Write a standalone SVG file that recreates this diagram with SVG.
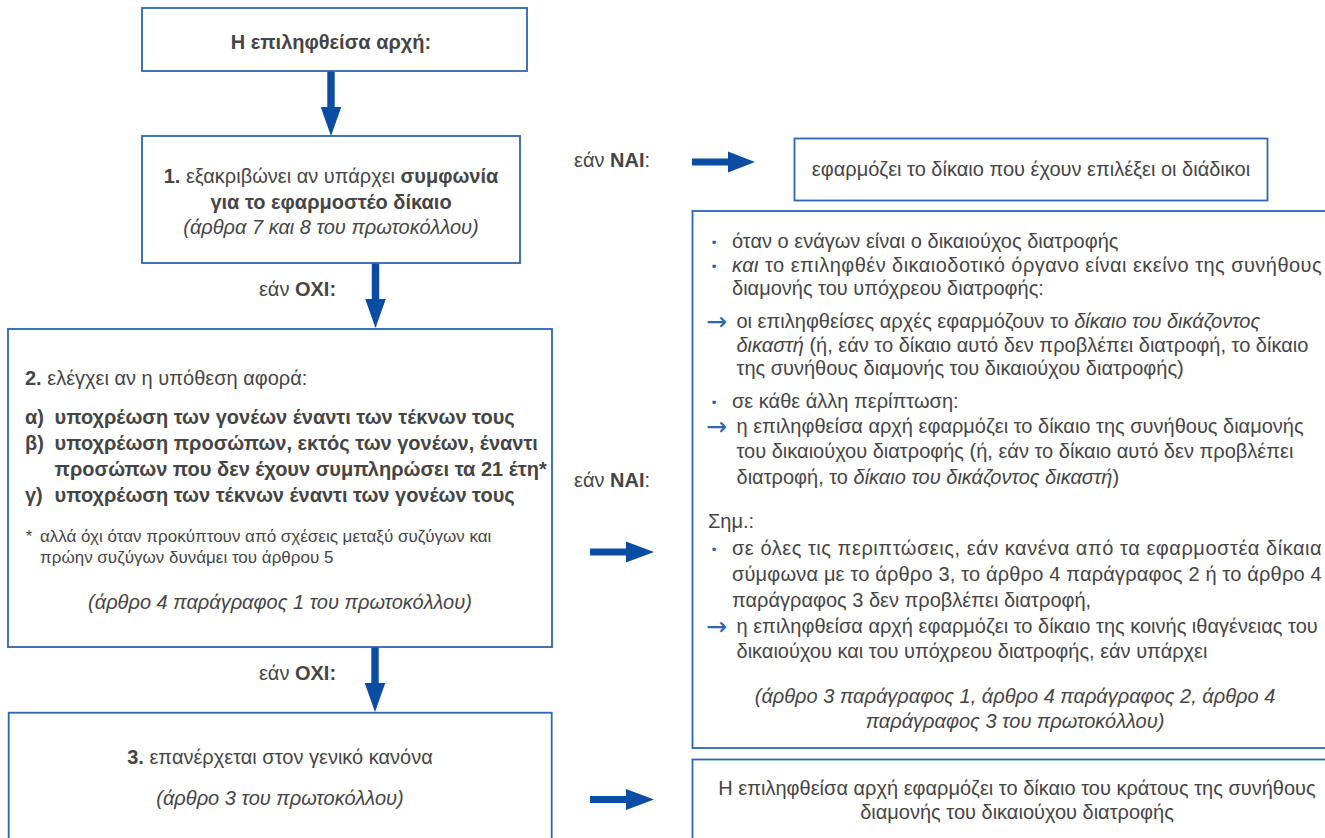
<svg xmlns="http://www.w3.org/2000/svg" width="1325" height="838" viewBox="0 0 1325 838">
  <style>
    .box { fill: #ffffff; stroke: #2c66b4; stroke-width: 1.8; }
    .t { font-family: "Liberation Sans", Arial, "DejaVu Sans", sans-serif; font-size: 20px; fill: #454545; }
    .s { font-size: 17px; }
    .b { font-weight: bold; }
    .i { font-style: italic; }
    .c { text-anchor: middle; }
    .mark { font-family: "DejaVu Sans", sans-serif; fill: #2c66b4; }
    .dot { font-size: 13px; }
    .arw { font-size: 25px; }
    .conn { fill: #0a4da2; }
  </style>

  <rect width="1325" height="838" fill="#ffffff"/>

  <!-- flow arrows -->
  <g id="connectors" class="conn">
    <polygon points="327.3,71 334.7,71 334.7,107 341.3,107 331,136 320.7,107 327.3,107"/>
    <polygon points="371.8,263 379.2,263 379.2,299 385.8,299 375.5,328 365.2,299 371.8,299"/>
    <polygon points="371.3,647 378.7,647 378.7,683 385.3,683 375,712 364.7,683 371.3,683"/>
    <polygon points="692,158.5 728,158.5 728,151.5 755,162 728,172.5 728,165.5 692,165.5"/>
    <polygon points="590,548.5 626,548.5 626,541.5 654,552 626,562.5 626,555.5 590,555.5"/>
    <polygon points="590,796 626,796 626,789 654,799.5 626,810 626,803 590,803"/>
  </g>

  <!-- branch labels -->
  <g id="labels" class="t">
    <text x="297.5" y="296" class="c">εάν <tspan class="b">ΟΧΙ:</tspan></text>
    <text x="297.5" y="680" class="c">εάν <tspan class="b">ΟΧΙ:</tspan></text>
    <text x="574" y="167">εάν <tspan class="b">ΝΑΙ</tspan>:</text>
    <text x="574" y="487">εάν <tspan class="b">ΝΑΙ</tspan>:</text>
  </g>

  <g id="start">
    <rect class="box" x="142" y="8" width="385" height="63"/>
    <text class="t b c" x="331" y="49">Η επιληφθείσα αρχή:</text>
  </g>

  <g id="step1">
    <rect class="box" x="142" y="136" width="378" height="127"/>
    <text class="t c" x="331" y="183"><tspan class="b">1.</tspan> εξακριβώνει αν υπάρχει <tspan class="b">συμφωνία</tspan></text>
    <text class="t b c" x="331" y="209">για το εφαρμοστέο δίκαιο</text>
    <text class="t i c" x="331" y="234">(άρθρα 7 και 8 του πρωτοκόλλου)</text>
  </g>

  <g id="step2">
    <rect class="box" x="8" y="329" width="544" height="318"/>
    <text class="t" x="25" y="385"><tspan class="b">2.</tspan> ελέγχει αν η υπόθεση αφορά:</text>
    <g class="t b">
      <text x="25" y="424">α)</text>
      <text x="54.6" y="424">υποχρέωση των γονέων έναντι των τέκνων τους</text>
      <text x="25" y="450">β)</text>
      <text x="54.6" y="450">υποχρέωση προσώπων, εκτός των γονέων, έναντι</text>
      <text x="54.6" y="476">προσώπων που δεν έχουν συμπληρώσει τα 21 έτη*</text>
      <text x="25" y="502">γ)</text>
      <text x="54.6" y="502">υποχρέωση των τέκνων έναντι των γονέων τους</text>
    </g>
    <g class="t s">
      <text x="25.7" y="542">*</text>
      <text x="40" y="542">αλλά όχι όταν προκύπτουν από σχέσεις μεταξύ συζύγων και</text>
      <text x="40" y="563">πρώην συζύγων δυνάμει του άρθρου 5</text>
    </g>
    <text class="t i c" x="280" y="609">(άρθρο 4 παράγραφος 1 του πρωτοκόλλου)</text>
  </g>

  <g id="step3">
    <rect class="box" x="8.7" y="712.7" width="543" height="140"/>
    <text class="t c" x="280" y="764"><tspan class="b">3.</tspan> επανέρχεται στον γενικό κανόνα</text>
    <text class="t i c" x="280" y="805">(άρθρο 3 του πρωτοκόλλου)</text>
  </g>

  <g id="result-choice">
    <rect class="box" x="794.5" y="138.5" width="473" height="62"/>
    <text class="t c" x="1031" y="176">εφαρμόζει το δίκαιο που έχουν επιλέξει οι διάδικοι</text>
  </g>

  <g id="result-maintenance">
    <rect class="box" x="692.5" y="211" width="645" height="537"/>
    <g class="mark dot">
      <text x="714" y="247" text-anchor="middle">•</text>
      <text x="714" y="270.5" text-anchor="middle">•</text>
      <text x="714" y="407" text-anchor="middle">•</text>
      <text x="714" y="554" text-anchor="middle">•</text>
    </g>
    <g class="mark arw">
      <text x="706" y="330">→</text>
      <text x="706" y="435">→</text>
      <text x="706" y="635">→</text>
    </g>
    <g class="t">
      <text x="732" y="248">όταν ο ενάγων είναι ο δικαιούχος διατροφής</text>
      <text x="732" y="271.5" textLength="589.6" lengthAdjust="spacing"><tspan class="i">και</tspan> το επιληφθέν δικαιοδοτικό όργανο είναι εκείνο της συνήθους</text>
      <text x="732" y="295">διαμονής του υπόχρεου διατροφής:</text>
      <text x="736.5" y="328">οι επιληφθείσες αρχές εφαρμόζουν το <tspan class="i">δίκαιο του δικάζοντος</tspan></text>
      <text x="736.5" y="351.5"><tspan class="i">δικαστή</tspan> (ή, εάν το δίκαιο αυτό δεν προβλέπει διατροφή, το δίκαιο</text>
      <text x="736.5" y="375">της συνήθους διαμονής του δικαιούχου διατροφής)</text>
      <text x="732" y="408">σε κάθε άλλη περίπτωση:</text>
      <text x="736.5" y="433">η επιληφθείσα αρχή εφαρμόζει το δίκαιο της συνήθους διαμονής</text>
      <text x="736.5" y="458">του δικαιούχου διατροφής (ή, εάν το δίκαιο αυτό δεν προβλέπει</text>
      <text x="736.5" y="484">διατροφή, το <tspan class="i">δίκαιο του δικάζοντος δικαστή</tspan>)</text>
      <text x="708" y="528">Σημ.:</text>
      <text x="732" y="555" textLength="589.6" lengthAdjust="spacing">σε όλες τις περιπτώσεις, εάν κανένα από τα εφαρμοστέα δίκαια</text>
      <text x="732" y="581" textLength="589.6" lengthAdjust="spacing">σύμφωνα με το άρθρο 3, το άρθρο 4 παράγραφος 2 ή το άρθρο 4</text>
      <text x="732" y="607">παράγραφος 3 δεν προβλέπει διατροφή,</text>
      <text x="736.5" y="633">η επιληφθείσα αρχή εφαρμόζει το δίκαιο της κοινής ιθαγένειας του</text>
      <text x="736.5" y="658">δικαιούχου και του υπόχρεου διατροφής, εάν υπάρχει</text>
      <text class="i c" x="1015" y="703">(άρθρο 3 παράγραφος 1, άρθρο 4 παράγραφος 2, άρθρο 4</text>
      <text class="i c" x="1015" y="728">παράγραφος 3 του πρωτοκόλλου)</text>
    </g>
  </g>

  <g id="result-residence">
    <rect class="box" x="692.5" y="759.5" width="645" height="95"/>
    <text class="t c" x="1017" y="795">Η επιληφθείσα αρχή εφαρμόζει το δίκαιο του κράτους της συνήθους</text>
    <text class="t c" x="1017" y="819">διαμονής του δικαιούχου διατροφής</text>
  </g>
</svg>
